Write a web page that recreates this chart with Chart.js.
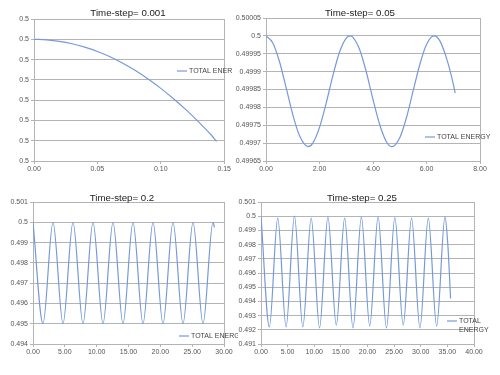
<!DOCTYPE html>
<html>
<head>
<meta charset="utf-8">
<script src="https://cdn.jsdelivr.net/npm/chart.js@4.4.1/dist/chart.umd.min.js"></script>
<style>
body { margin: 0; background: #fff; width: 500px; height: 375px; overflow: hidden; position: relative; }
canvas { position: absolute; }
</style>
</head>
<body>
<canvas id="c1" width="232" height="187" style="left:0;top:0"></canvas>
<canvas id="c2" width="265" height="187" style="left:235px;top:0"></canvas>
<canvas id="c3" width="238" height="188" style="left:0;top:187px"></canvas>
<canvas id="c4" width="262" height="188" style="left:238px;top:187px"></canvas>
<script>
// Time-step= 0.001
var p1Time = [0, 0.01, 0.02, 0.03, 0.04, 0.05, 0.06, 0.07, 0.08, 0.09, 0.10, 0.11, 0.12, 0.13, 0.14, 0.144];
var p1Energy = [0.5, 0.4999999997, 0.499999999, 0.4999999978, 0.4999999961, 0.499999994, 0.4999999914,
    0.4999999882, 0.4999999846, 0.4999999804, 0.4999999758, 0.4999999707, 0.4999999652, 0.4999999592,
    0.4999999527, 0.4999999497];
var p1YTicks = [0.49999994, 0.49999995, 0.49999996, 0.49999997, 0.49999998, 0.49999999, 0.5, 0.50000001];
var p1YLabels = ['0.5', '0.5', '0.5', '0.5', '0.5', '0.5', '0.5', '0.5'];
var p1XTicks = [0, 0.05, 0.10, 0.15];
var p1XLabels = ['0.00', '0.05', '0.10', '0.15'];

// Time-step= 0.05
var p2Time = [0, 0.25, 0.5, 0.75, 1.0, 1.25, 1.571, 1.75, 2.0, 2.25, 2.5, 2.75, 3.0, 3.142, 3.25, 3.5, 3.75,
    4.0, 4.25, 4.5, 4.712, 5.0, 5.25, 5.5, 5.75, 6.0, 6.283, 6.5, 6.75, 7.0, 7.07];
var p2Energy = [0.5, 0.499981, 0.499929, 0.499856, 0.49978, 0.499721, 0.49969, 0.4997, 0.499744,
    0.499812, 0.499889, 0.499955, 0.499994, 0.5, 0.499996, 0.499962, 0.499899, 0.499822, 0.499752,
    0.499704, 0.49969, 0.499715, 0.499771, 0.499846, 0.49992, 0.499976, 0.5, 0.499986, 0.499937,
    0.499866, 0.49984];
var p2YTicks = [0.49965, 0.4997, 0.49975, 0.4998, 0.49985, 0.4999, 0.49995, 0.5, 0.50005];
var p2YLabels = ['0.49965', '0.4997', '0.49975', '0.4998', '0.49985', '0.4999', '0.49995', '0.5', '0.50005'];
var p2XTicks = [0, 2, 4, 6, 8];
var p2XLabels = ['0.00', '2.00', '4.00', '6.00', '8.00'];

// Time-step= 0.2
var p3Time = [0, 1.571, 3.142, 4.712, 6.283, 7.854, 9.425, 10.996, 12.566, 14.137, 15.708, 17.279,
    18.850, 20.420, 21.991, 23.562, 25.133, 26.704, 28.274, 28.5];
var p3Energy = [0.5, 0.495, 0.5, 0.495, 0.5, 0.495, 0.5, 0.495, 0.5, 0.495, 0.5, 0.495,
    0.5, 0.495, 0.5, 0.495, 0.5, 0.495, 0.5, 0.49975];
var p3YTicks = [0.494, 0.495, 0.496, 0.497, 0.498, 0.499, 0.5, 0.501];
var p3YLabels = ['0.494', '0.495', '0.496', '0.497', '0.498', '0.499', '0.5', '0.501'];
var p3XTicks = [0, 5, 10, 15, 20, 25, 30];
var p3XLabels = ['0.00', '5.00', '10.00', '15.00', '20.00', '25.00', '30.00'];

// Time-step= 0.25
var p4Time = [0, 1.571, 3.142, 4.712, 6.283, 7.854, 9.425, 10.996, 12.566, 14.137, 15.708, 17.279,
    18.850, 20.420, 21.991, 23.562, 25.133, 26.704, 28.274, 29.845, 31.416, 32.987, 34.558, 35.1, 35.6];
var p4Energy = [0.5, 0.4922, 0.49987, 0.4922, 0.5, 0.4922, 0.49987, 0.49213, 0.49995, 0.49232,
    0.49987, 0.49213, 0.49993, 0.49227, 0.49995, 0.49213, 0.4999, 0.49232, 0.49987, 0.49213,
    0.49987, 0.49227, 0.49995, 0.4979, 0.4942];
var p4YTicks = [0.491, 0.492, 0.493, 0.494, 0.495, 0.496, 0.497, 0.498, 0.499, 0.5, 0.501];
var p4YLabels = ['0.491', '0.492', '0.493', '0.494', '0.495', '0.496', '0.497', '0.498', '0.499', '0.5', '0.501'];
var p4XTicks = [0, 5, 10, 15, 20, 25, 30, 35, 40];
var p4XLabels = ['0.00', '5.00', '10.00', '15.00', '20.00', '25.00', '30.00', '35.00', '40.00'];

var lineColor = '#7699da';
var gridColor = '#b4b4b4';
var fontFamily = '"Liberation Sans", Arial, sans-serif';

// title, legend and right frame line of the plot box
var boxText = {
    id: 'boxText',
    afterDraw: function(chart, args, o) {
        var ctx = chart.ctx;
        var a = chart.chartArea;
        ctx.save();
        ctx.strokeStyle = gridColor;
        ctx.lineWidth = 1;
        ctx.beginPath();
        ctx.moveTo(Math.round(a.right) + 0.5, a.top);
        ctx.lineTo(Math.round(a.right) + 0.5, a.bottom);
        ctx.stroke();

        ctx.fillStyle = '#222';
        ctx.font = '9.7px ' + fontFamily;
        ctx.textAlign = 'center';
        ctx.textBaseline = 'middle';
        ctx.fillText(o.title, o.titleX, o.titleY);

        ctx.strokeStyle = lineColor;
        ctx.lineWidth = 1.2;
        ctx.beginPath();
        ctx.moveTo(o.legendX, o.legendY);
        ctx.lineTo(o.legendX + 10, o.legendY);
        ctx.stroke();
        ctx.fillStyle = '#444';
        ctx.font = '7px ' + fontFamily;
        ctx.textAlign = 'left';
        for (var i = 0; i < o.legend.length; i++) {
            ctx.fillText(o.legend[i], o.legendX + 12, o.legendY + i * 9);
        }
        ctx.restore();
    }
};

function makeChart(id, time, energy, yTicks, yLabels, xTicks, xLabels, box) {
    var pts = time.map(function(t, i) { return {x: t, y: energy[i]}; });
    new Chart(document.getElementById(id), {
        type: 'line',
        data: { datasets: [{
            label: 'TOTAL ENERGY',
            data: pts,
            borderColor: lineColor,
            borderWidth: 1.2,
            pointRadius: 0,
            fill: false,
            cubicInterpolationMode: 'monotone'
        }]},
        options: {
            responsive: false,
            animation: false,
            layout: { padding: box.padding },
            plugins: { legend: { display: false }, tooltip: { enabled: false }, boxText: box },
            scales: {
                x: {
                    type: 'linear',
                    min: xTicks[0],
                    max: xTicks[xTicks.length - 1],
                    afterBuildTicks: function(s) { s.ticks = xTicks.map(function(v) { return {value: v}; }); },
                    afterFit: function(s) { s.height = box.xHeight; },
                    grid: { drawOnChartArea: false, color: gridColor, tickLength: 3 },
                    border: { color: gridColor },
                    ticks: {
                        autoSkip: false, maxRotation: 0, padding: 1, color: '#555',
                        font: { size: 7, family: fontFamily },
                        callback: function(v, i) { return xLabels[i]; }
                    }
                },
                y: {
                    min: yTicks[0],
                    max: yTicks[yTicks.length - 1],
                    afterBuildTicks: function(s) { s.ticks = yTicks.map(function(v) { return {value: v}; }); },
                    afterFit: function(s) { s.width = box.yWidth; },
                    grid: { color: gridColor, tickLength: 3 },
                    border: { color: gridColor },
                    ticks: {
                        autoSkip: false, padding: 2, color: '#555',
                        font: { size: 7, family: fontFamily },
                        callback: function(v, i) { return yLabels[i]; }
                    }
                }
            }
        },
        plugins: [boxText]
    });
}

makeChart('c1', p1Time, p1Energy, p1YTicks, p1YLabels, p1XTicks, p1XLabels, {
    title: 'Time-step= 0.001', titleX: 128, titleY: 13,
    legend: ['TOTAL ENERGY'], legendX: 177, legendY: 71,
    padding: {left: 0, right: 7, top: 19, bottom: 12}, yWidth: 34, xHeight: 14
});
makeChart('c2', p2Time, p2Energy, p2YTicks, p2YLabels, p2XTicks, p2XLabels, {
    title: 'Time-step= 0.05', titleX: 125, titleY: 13,
    legend: ['TOTAL ENERGY'], legendX: 190, legendY: 137,
    padding: {left: 0, right: 20, top: 18, bottom: 12}, yWidth: 31, xHeight: 14
});
makeChart('c3', p3Time, p3Energy, p3YTicks, p3YLabels, p3XTicks, p3XLabels, {
    title: 'Time-step= 0.2', titleX: 122, titleY: 11,
    legend: ['TOTAL ENERGY'], legendX: 179, legendY: 149,
    padding: {left: 0, right: 14, top: 15, bottom: 17}, yWidth: 33, xHeight: 14
});
makeChart('c4', p4Time, p4Energy, p4YTicks, p4YLabels, p4XTicks, p4XLabels, {
    title: 'Time-step= 0.25', titleX: 124, titleY: 11,
    legend: ['TOTAL', 'ENERGY'], legendX: 209, legendY: 134,
    padding: {left: 0, right: 26, top: 15, bottom: 17}, yWidth: 23, xHeight: 14
});
</script>
</body>
</html>
